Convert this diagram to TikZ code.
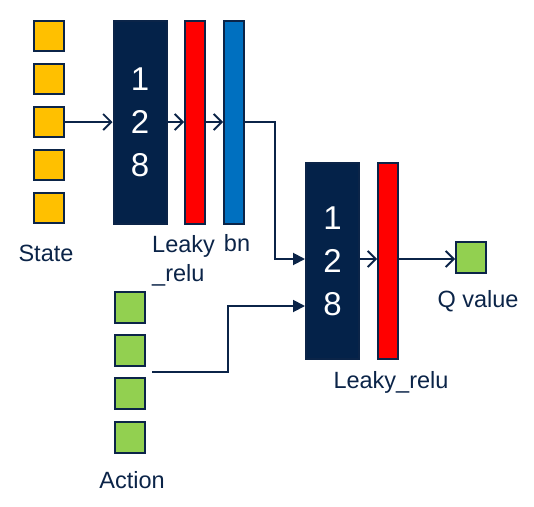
\documentclass[tikz,border=0pt]{standalone}
\usepackage{fontspec}
\setmainfont{Liberation Sans}
\usetikzlibrary{arrows.meta,calc}
\definecolor{navy}{HTML}{0B2448}
\definecolor{darkfill}{HTML}{042249}
\definecolor{sqyellow}{HTML}{FFC000}
\definecolor{sqgreen}{HTML}{92D050}
\definecolor{barred}{HTML}{FF0000}
\definecolor{barblue}{HTML}{0070C0}
\tikzset{
  box/.style={draw=navy, line width=2pt, inner sep=0pt, anchor=north west},
  sq/.style={box, minimum width=30pt, minimum height=30pt},
  dense/.style={box, fill=darkfill, minimum width=53pt, text=white, align=center,
    font=\fontsize{33}{43}\selectfont},
  bar/.style={box, minimum width=20pt},
  lbl/.style={text=navy, font=\fontsize{23.5}{29}\selectfont, inner sep=0pt},
  wire/.style={draw=navy, line width=1.9pt},
  openarr/.style={wire, -{Straight Barb[length=8pt,width=16pt,line width=1.9pt]}},
  fillarr/.style={wire, -{Triangle[length=12pt,width=12pt]}}
}
\begin{document}
\begin{tikzpicture}[x=1pt,y=-1pt]
\useasboundingbox (0,0) rectangle (534,506);
% state squares
\node[sq, fill=sqyellow] (s1) at (33,20) {};
\node[sq, fill=sqyellow] (s2) at (33,63) {};
\node[sq, fill=sqyellow] (s3) at (33,106) {};
\node[sq, fill=sqyellow] (s4) at (33,149) {};
\node[sq, fill=sqyellow] (s5) at (33,192) {};
% first block
\node[dense, minimum height=203pt] (d1) at (112.5,20) {1\\2\\8};
\node[bar, fill=barred, minimum height=203pt] (r1) at (184,20) {};
\node[bar, fill=barblue, minimum height=203pt] (b1) at (223,20) {};
% second block
\node[dense, minimum height=196pt] (d2) at (305,162) {1\\2\\8};
\node[bar, fill=barred, minimum height=196pt] (r2) at (377,162) {};
\node[sq, fill=sqgreen, minimum height=31pt] (q) at (455,241) {};
% action squares
\node[sq, fill=sqgreen, minimum height=31pt] (a1) at (114,291) {};
\node[sq, fill=sqgreen, minimum height=31pt] (a2) at (114,334) {};
\node[sq, fill=sqgreen, minimum height=31pt] (a3) at (114,377) {};
\node[sq, fill=sqgreen, minimum height=31pt] (a4) at (114,421) {};
% labels
\node[lbl, anchor=base] (tstate) at (46,261) {State};
\node[lbl, anchor=base west] (tleaky) at (152,252) {Leaky};
\node[lbl, anchor=base west] (trelu) at (152,281) {\_relu};
\node[lbl, anchor=base] (tbn) at (237,251) {bn};
\node[lbl, anchor=base] (tq) at (478,307) {Q value};
\node[lbl, anchor=base] (tleaky2) at (391,388) {Leaky\_relu};
\node[lbl, anchor=base] (taction) at (132,488) {Action};
% connectors
\draw[openarr] (s3.east) -- (d1.west |- s3.east);
\draw[openarr] (d1.east |- s3.east) -- (r1.west |- s3.east);
\draw[openarr] (r1.east |- s3.east) -- (b1.west |- s3.east);
\coordinate (bend1) at ($(b1.east |- s3.east)+(30,0)$);
\draw[fillarr] (b1.east |- s3.east) -- (bend1) |- ($(d2.north west)+(0,97)$);
\coordinate (astart) at ($(a2.south east)!0.5!(a3.north east)+(6,0)$);
\coordinate (bend2) at ($(astart)+(76,0)$);
\draw[fillarr] (astart) -- (bend2) |- ($(d2.north west)+(0,144)$);
\draw[openarr] ($(d2.north east)+(0,97)$) -- ($(r2.north west)+(0,97)$);
\draw[openarr] ($(r2.north east)+(0,97)$) -- ($(q.west)+(0,1.5)$);
\end{tikzpicture}
\end{document}
